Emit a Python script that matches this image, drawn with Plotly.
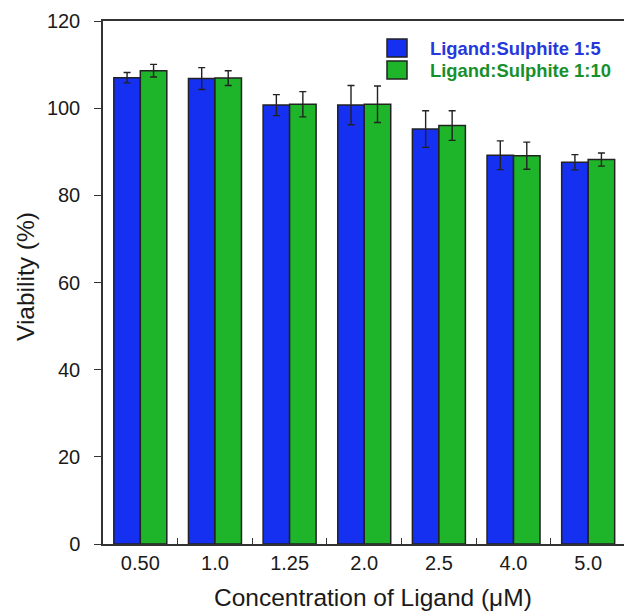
import plotly.graph_objects as go

# Ligand concentrations (µM) and viability results
concentrations = ["0.50", "1.0", "1.25", "2.0", "2.5", "4.0", "5.0"]
viability_1_5 = [107.0, 106.8, 100.7, 100.7, 95.2, 89.2, 87.6]
error_1_5 = [1.2, 2.5, 2.4, 4.5, 4.2, 3.3, 1.75]
viability_1_10 = [108.6, 106.9, 100.9, 100.9, 96.0, 89.1, 88.2]
error_1_10 = [1.45, 1.7, 2.9, 4.2, 3.4, 3.1, 1.5]

series_names = ["Ligand:Sulphite 1:5", "Ligand:Sulphite 1:10"]
fill_colors = ["#1530F0", "#1FB52A"]
text_colors = ["#2438DC", "#17902C"]

positions = list(range(len(concentrations)))
edge = "#222222"

fig = go.Figure()
for vals, errs, name, col in [
    (viability_1_5, error_1_5, series_names[0], fill_colors[0]),
    (viability_1_10, error_1_10, series_names[1], fill_colors[1]),
]:
    fig.add_trace(go.Bar(
        x=positions, y=vals, name=name,
        marker=dict(color=col, line=dict(color=edge, width=1.5)),
        error_y=dict(type="data", array=errs, visible=True,
                     color=edge, thickness=1.4, width=3.5),
        showlegend=False,
    ))

# plot area geometry (pixels) for placing the key
L, R, T, B = 103, 624, 21, 544
W, H = R - L, B - T


def px(x):
    return (x - L) / W


def py(y):
    return (B - y) / H


shapes = []
annotations = []
for i, (name, fc, tc) in enumerate(zip(series_names, fill_colors, text_colors)):
    y0 = 39 + i * 22
    shapes.append(dict(type="rect", xref="paper", yref="paper",
                       x0=px(387), x1=px(407), y0=py(y0 + 18), y1=py(y0),
                       fillcolor=fc, line=dict(color=edge, width=1.5)))
    annotations.append(dict(xref="paper", yref="paper", x=px(428), y=py(y0 + 9.5),
                            xanchor="left", yanchor="middle", showarrow=False,
                            text="<b>%s</b>" % name,
                            font=dict(family="Liberation Sans, Arial", size=18.4, color=tc)))

annotations.append(dict(xref="paper", yref="paper", x=px(373), y=py(597),
                        xanchor="center", yanchor="middle", showarrow=False,
                        text="Concentration of Ligand (\u03bcM)",
                        font=dict(family="Liberation Sans, Arial", size=24.5, color="#1a1a1a")))
annotations.append(dict(xref="paper", yref="paper", x=px(25), y=py(277),
                        xanchor="center", yanchor="middle", showarrow=False, textangle=-90,
                        text="Viability (%)",
                        font=dict(family="Liberation Sans, Arial", size=24.5, color="#1a1a1a")))

fig.update_layout(
    width=624, height=614,
    margin=dict(l=L, r=624 - R, t=T, b=614 - B),
    paper_bgcolor="white", plot_bgcolor="white",
    barmode="group", bargap=0.29, bargroupgap=0,
    font=dict(family="Liberation Sans, Arial", size=20, color="#1a1a1a"),
    shapes=shapes, annotations=annotations,
)
fig.update_xaxes(
    range=[-0.5, 6.48], tickmode="array", tickvals=positions, ticktext=concentrations,
    ticks="", showline=True, linecolor="#333333", linewidth=1.5, mirror=True,
    showgrid=False, zeroline=False, ticklabelstandoff=0,
    minor=dict(tickmode="array", tickvals=[p + 0.5 for p in positions[:-1]],
               ticks="inside", ticklen=6, tickwidth=1.4, tickcolor="#333333", showgrid=False),
)
fig.update_yaxes(
    range=[0, 120], tickmode="array", tickvals=[0, 20, 40, 60, 80, 100, 120],
    ticks="outside", ticklen=7, tickwidth=1.4, tickcolor="#333333",
    showline=True, linecolor="#333333", linewidth=1.5, mirror=False,
    showgrid=False, zeroline=False, ticklabelstandoff=10,
)

fig.write_html("out.html")
